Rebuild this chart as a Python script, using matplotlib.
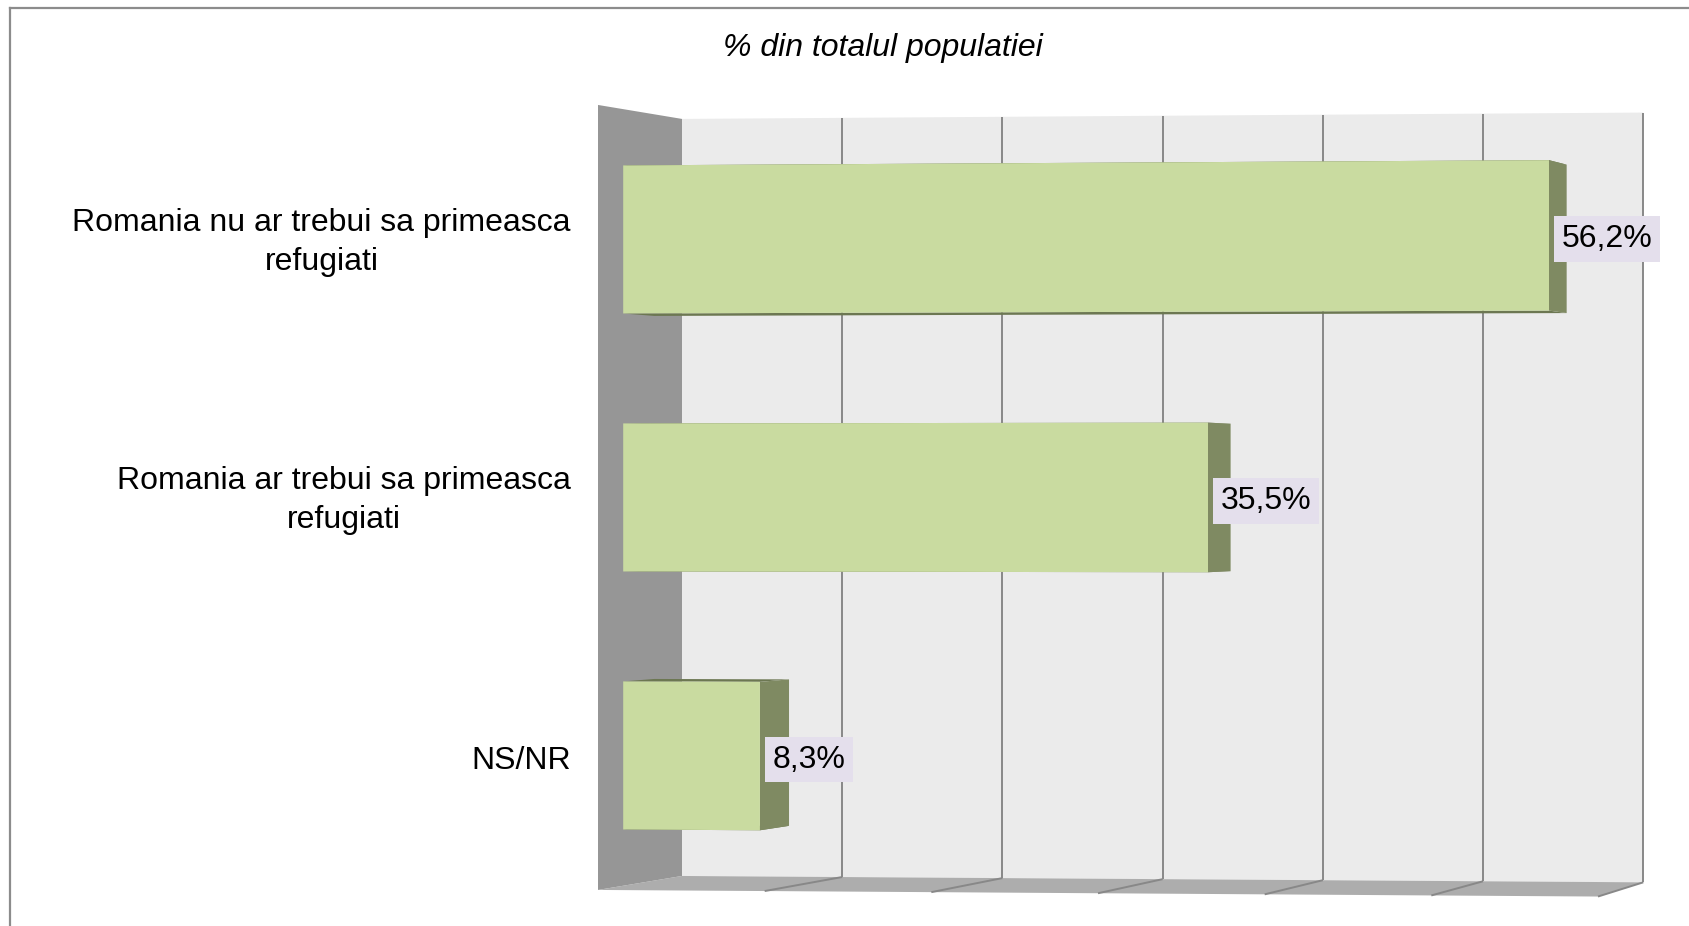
import matplotlib
matplotlib.use("Agg")
import matplotlib.pyplot as plt
from matplotlib.patches import Polygon
from matplotlib.lines import Line2D

# ---- data ----
categories = ["Romania nu ar trebui sa primeasca\nrefugiati",
              "Romania ar trebui sa primeasca\nrefugiati",
              "NS/NR"]
values = [56.2, 35.5, 8.3]
grid_ticks = [0, 10, 20, 30, 40, 50, 60]
title = "% din totalul populatiei"

# ---- style ----
W, H, DPI = 1690, 926, 100
PT = 72 / DPI  # points per pixel
FONT = ["Liberation Sans", "DejaVu Sans"]
FS = 23
front_col = "#c9dba0"
side_col = "#7f8a62"
under_col = "#6c7752"
wall_col = "#ebebeb"
floor_col = "#adadad"
lwall_col = "#969696"
grid_col = "#888888"
box_col = "#e4dfec"

plt.rcParams["font.family"] = FONT

fig = plt.figure(figsize=(W / DPI, H / DPI), dpi=DPI)
ax = fig.add_axes([0, 0, 1, 1])
ax.set_xlim(-35.88, 65.52)
ax.set_ylim(-0.661, 2.928)
ax.axis("off")
renderer = fig.canvas.get_renderer()

vmax = grid_ticks[-1]
half_wall = 1.505
bar_half = 0.287
z_front, z_back = 0.30, 0.67


def proj(v, urel, z):
    """oblique/perspective projection: v in %, urel relative to centre, z depth 0..1"""
    X = 5.04 * z + v * (1 - 0.0387 * z)
    Y = 1 + urel * (1.0108 - 0.036 * z) * (1 + 0.00028 * v)
    return X, Y


def quad(pts, **kw):
    ax.add_patch(Polygon([proj(*p) for p in pts], closed=True, **kw))


# back wall
quad([(0, -half_wall, 1), (vmax, -half_wall, 1), (vmax, half_wall, 1), (0, half_wall, 1)],
     facecolor=wall_col, edgecolor="none", zorder=1)
# floor
quad([(0, -half_wall, 0), (vmax, -half_wall, 0), (vmax, -half_wall, 1), (0, -half_wall, 1)],
     facecolor=floor_col, edgecolor="none", zorder=1)
# grid lines on wall and floor
for t in grid_ticks[1:]:
    x0, y0 = proj(t, -half_wall, 1)
    x1, y1 = proj(t, half_wall, 1)
    ax.plot([x0, x1], [y0, y1], color=grid_col, lw=1.4, zorder=2, solid_capstyle="butt")
    xf, yf = proj(t, -half_wall, 0)
    ax.plot([xf, x0], [yf, y0], color=grid_col, lw=1.4, zorder=2, solid_capstyle="butt")
# left wall
quad([(0, -half_wall, 0), (0, -half_wall, 1), (0, half_wall, 1), (0, half_wall, 0)],
     facecolor=lwall_col, edgecolor="none", zorder=3)

# bars
positions = list(range(len(values)))[::-1]
for cat, val, pos in zip(categories, values, positions):
    ur = pos - 1
    lo, hi = ur - bar_half, ur + bar_half
    # bottom / top faces
    for u in (lo, hi):
        quad([(0, u, z_front), (val, u, z_front), (val, u, z_back), (0, u, z_back)],
             facecolor=under_col, edgecolor="none", zorder=4)
    # side face
    quad([(val, lo, z_front), (val, lo, z_back), (val, hi, z_back), (val, hi, z_front)],
         facecolor=side_col, edgecolor="none", zorder=5)
    # front face
    quad([(0, lo, z_front), (val, lo, z_front), (val, hi, z_front), (0, hi, z_front)],
         facecolor=front_col, edgecolor="none", zorder=6)
    # value label
    xe, ye = proj(val, ur, z_front)
    ax.annotate(f"{val:.1f}%".replace(".", ","), xy=(xe, ye),
                xytext=(12.7 * PT, -11.5 * PT),
                textcoords="offset points", ha="left", va="baseline", fontsize=FS,
                color="black", zorder=8,
                bbox=dict(boxstyle="square,pad=0.24", facecolor=box_col, edgecolor="none"))
    # category label: each line centred within the block, block right-aligned
    xs, ys = proj(0, ur, z_front)
    lines = cat.split("\n")
    n = len(lines)
    txts = [ax.annotate(line, xy=(xs, ys), xytext=(0, 0), textcoords="offset points",
                        ha="center", va="baseline", fontsize=FS, color="black", zorder=8)
            for line in lines]
    wmax = max(t.get_window_extent(renderer).width for t in txts)
    base = 13.5 if n == 1 else 11.0
    for k, t in enumerate(txts):
        dx = -(52.3 + wmax / 2)
        dy = -(base + (k - (n - 1) / 2) * 38.5)
        t.xyann = (dx * PT, dy * PT)

# title
fig.text(883 / W, 1 - 56 / H, title, ha="center", va="baseline", fontsize=FS,
         style="italic", color="black")

# outer frame (left and top edges visible)
fig.add_artist(Line2D([10 / W, 10 / W], [0, 1 - 8 / H], transform=fig.transFigure,
                      color="#8c8c8c", lw=1.6))
fig.add_artist(Line2D([10 / W, 1], [1 - 8 / H, 1 - 8 / H], transform=fig.transFigure,
                      color="#8c8c8c", lw=1.6))

fig.savefig("out.png", dpi=DPI, facecolor="white")
